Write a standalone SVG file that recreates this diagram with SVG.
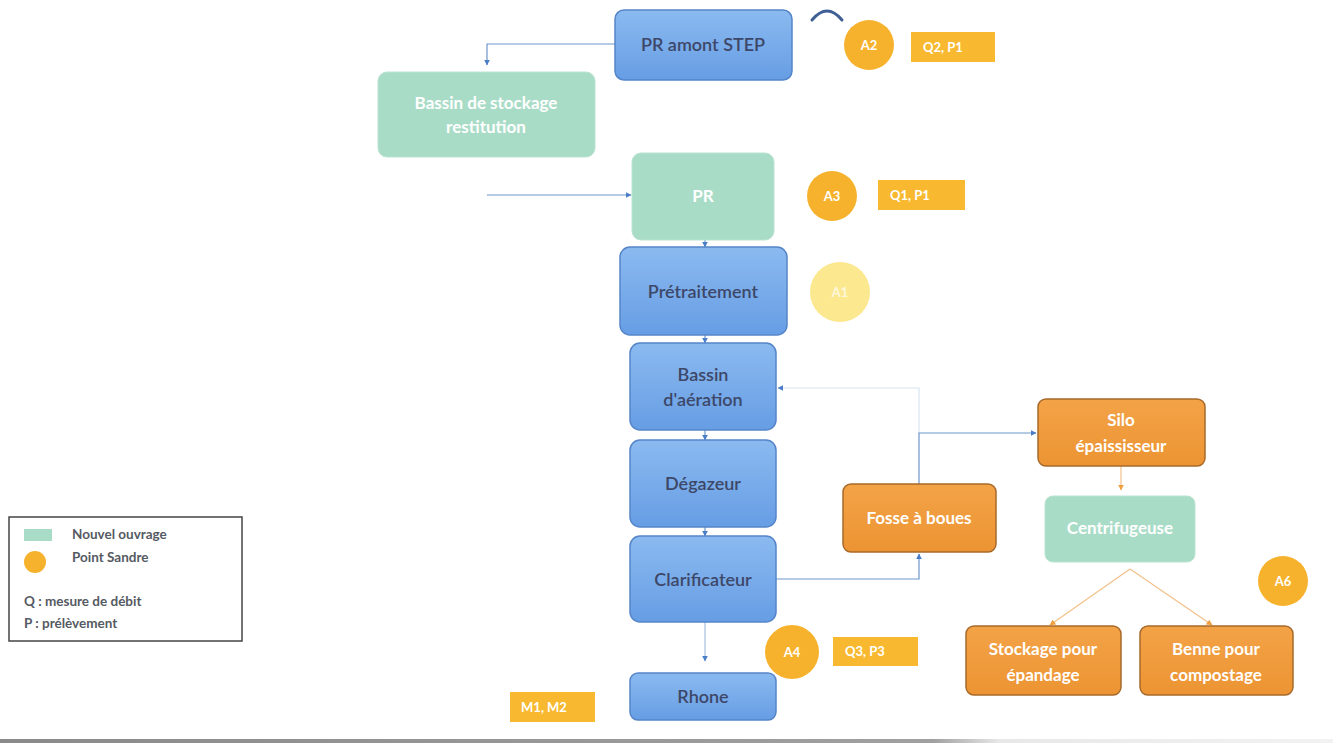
<svg xmlns="http://www.w3.org/2000/svg" width="1333" height="743" viewBox="0 0 1333 743">
<defs>
<linearGradient id="gBlue" x1="0" y1="0" x2="0" y2="1">
<stop offset="0" stop-color="#8bbaf0"/>
<stop offset="1" stop-color="#669de4"/>
</linearGradient>
<linearGradient id="gOrange" x1="0" y1="0" x2="0" y2="1">
<stop offset="0" stop-color="#f3a347"/>
<stop offset="1" stop-color="#ec9433"/>
</linearGradient>
<linearGradient id="gBottom" x1="0" y1="0" x2="1" y2="0">
<stop offset="0" stop-color="#8a8a8a"/>
<stop offset="0.7" stop-color="#a0a0a0"/>
<stop offset="0.75" stop-color="#e8e8e8"/>
<stop offset="1" stop-color="#f2f2f2"/>
</linearGradient>
<marker id="aBlue" viewBox="0 0 10 10" refX="9" refY="5" markerWidth="5" markerHeight="5" orient="auto-start-reverse">
<path d="M0,0 L10,5 L0,10 z" fill="#4a7ec8"/>
</marker>
<marker id="aOrange" viewBox="0 0 10 10" refX="9" refY="5" markerWidth="5" markerHeight="5" orient="auto-start-reverse">
<path d="M0,0 L10,5 L0,10 z" fill="#f0a040"/>
</marker>
</defs>
<style>
text{font-family:Lato,"Open Sans","Liberation Sans",sans-serif;text-anchor:middle;}
.blue{fill:url(#gBlue);stroke:#5585c8;stroke-width:1.5;}
.green{fill:#a9dcc7;stroke:#b9e3d2;stroke-width:1;}
.orange{fill:url(#gOrange);stroke:#a8692a;stroke-width:1.5;}
.tb{fill:#3d4768;font-size:18px;font-weight:600;}
.tw{fill:#ffffff;font-size:17px;font-weight:700;}
.dot{fill:#f6b22c;}
.tag{fill:#f8b930;}
.tt{fill:#ffffff;font-size:13px;font-weight:700;}
.c{fill:none;stroke:#6d95cc;stroke-width:1.2;}
.co{fill:none;stroke:#f4c08a;stroke-width:1.2;}
.lg{fill:#555a63;font-size:13.5px;font-weight:700;text-anchor:start;}
</style>
<rect width="1333" height="743" fill="#ffffff"/>
<g id="connectors">
<path class="c" d="M615,44 H487 V65" marker-end="url(#aBlue)"/>
<path class="c" d="M487,195 H631" marker-end="url(#aBlue)"/>
<path class="c" d="M705,240 V247" marker-end="url(#aBlue)"/>
<path class="c" d="M705,335 V343" marker-end="url(#aBlue)"/>
<path class="c" d="M705,430 V440" marker-end="url(#aBlue)"/>
<path class="c" d="M705,527 V536" marker-end="url(#aBlue)"/>
<path class="c" d="M705,622 V661" stroke-opacity="0.6" marker-end="url(#aBlue)"/>
<path class="c" d="M776,579 H919 V554" marker-end="url(#aBlue)"/>
<path class="c" d="M919,484 V433 H1036" marker-end="url(#aBlue)"/>
<path class="c" d="M919,433 V388 H778" stroke-opacity="0.25" marker-end="url(#aBlue)"/>
<path class="co" d="M1121,466 V490" stroke="#f0a040" marker-end="url(#aOrange)"/>
<path class="co" d="M1130,569 L1050,625" marker-end="url(#aOrange)"/>
<path class="co" d="M1130,569 L1212,625" marker-end="url(#aOrange)"/>
<path d="M812,20 Q827,2 842,20" fill="none" stroke="#3f5f95" stroke-width="3" stroke-linecap="round"/>
</g>
<g id="pr-amont">
<rect class="blue" x="615" y="10" width="177" height="70" rx="9"/>
<text class="tb" x="703" y="51">PR amont STEP</text>
</g>
<g id="bassin-stockage">
<rect class="green" x="378" y="72" width="217" height="85" rx="9"/>
<text class="tw" x="486" y="109">Bassin de stockage</text>
<text class="tw" x="486" y="133">restitution</text>
</g>
<g id="a2">
<circle class="dot" cx="869" cy="45" r="25"/>
<text class="tt" x="869" y="50">A2</text>
</g>
<g id="q2p1">
<rect class="tag" x="911" y="32" width="84" height="30"/>
<text class="tt" x="943" y="52">Q2, P1</text>
</g>
<g id="pr">
<rect class="green" x="632" y="153" width="142" height="87" rx="9"/>
<text class="tw" x="703" y="202">PR</text>
</g>
<g id="a3">
<circle class="dot" cx="832" cy="196" r="25"/>
<text class="tt" x="832" y="201">A3</text>
</g>
<g id="q1p1">
<rect class="tag" x="878" y="180" width="87" height="30"/>
<text class="tt" x="910" y="200">Q1, P1</text>
</g>
<g id="pretraitement">
<rect class="blue" x="620" y="247" width="167" height="88" rx="10"/>
<text class="tb" x="703" y="298">Prétraitement</text>
</g>
<g id="a1">
<circle cx="840" cy="292" r="30" fill="#fce683" opacity="0.9"/>
<text class="tt" x="840" y="297" fill-opacity="0.7">A1</text>
</g>
<g id="bassin-aeration">
<rect class="blue" x="630" y="343" width="146" height="87" rx="10"/>
<text class="tb" x="703" y="381">Bassin</text>
<text class="tb" x="703" y="406">d'aération</text>
</g>
<g id="degazeur">
<rect class="blue" x="630" y="440" width="146" height="87" rx="10"/>
<text class="tb" x="703" y="490">Dégazeur</text>
</g>
<g id="clarificateur">
<rect class="blue" x="630" y="536" width="146" height="86" rx="10"/>
<text class="tb" x="703" y="586">Clarificateur</text>
</g>
<g id="rhone">
<rect class="blue" x="630" y="673" width="146" height="47" rx="8"/>
<text class="tb" x="703" y="703">Rhone</text>
</g>
<g id="a4">
<circle class="dot" cx="792" cy="652" r="27"/>
<text class="tt" x="792" y="657">A4</text>
</g>
<g id="q3p3">
<rect class="tag" x="833" y="637" width="85" height="29"/>
<text class="tt" x="865" y="656">Q3, P3</text>
</g>
<g id="m1m2">
<rect class="tag" x="510" y="692" width="85" height="30"/>
<text class="tt" x="544" y="712">M1, M2</text>
</g>
<g id="fosse">
<rect class="orange" x="843" y="484" width="153" height="68" rx="8"/>
<text class="tw" x="919" y="524">Fosse à boues</text>
</g>
<g id="silo">
<rect class="orange" x="1038" y="399" width="167" height="67" rx="8"/>
<text class="tw" x="1121" y="426">Silo</text>
<text class="tw" x="1121" y="452">épaississeur</text>
</g>
<g id="centrifugeuse">
<rect class="green" x="1045" y="496" width="150" height="66" rx="8"/>
<text class="tw" x="1120" y="534">Centrifugeuse</text>
</g>
<g id="a6">
<circle class="dot" cx="1283" cy="581" r="25"/>
<text class="tt" x="1283" y="586">A6</text>
</g>
<g id="stockage">
<rect class="orange" x="966" y="626" width="155" height="69" rx="8"/>
<text class="tw" x="1043" y="655">Stockage pour</text>
<text class="tw" x="1043" y="681">épandage</text>
</g>
<g id="benne">
<rect class="orange" x="1140" y="626" width="153" height="69" rx="8"/>
<text class="tw" x="1216" y="655">Benne pour</text>
<text class="tw" x="1216" y="681">compostage</text>
</g>
<g id="legend">
<rect x="9" y="517" width="233" height="124" fill="#ffffff" stroke="#444" stroke-width="1.5"/>
<rect x="24" y="529" width="28" height="12" fill="#a9dcc7"/>
<circle cx="35" cy="562" r="11" fill="#f6b22c"/>
<text class="lg" x="72" y="539">Nouvel ouvrage</text>
<text class="lg" x="72" y="562">Point Sandre</text>
<text class="lg" x="24" y="606">Q : mesure de débit</text>
<text class="lg" x="24" y="628">P : prélèvement</text>
</g>
<rect x="0" y="739" width="1333" height="4" fill="url(#gBottom)"/>
</svg>
